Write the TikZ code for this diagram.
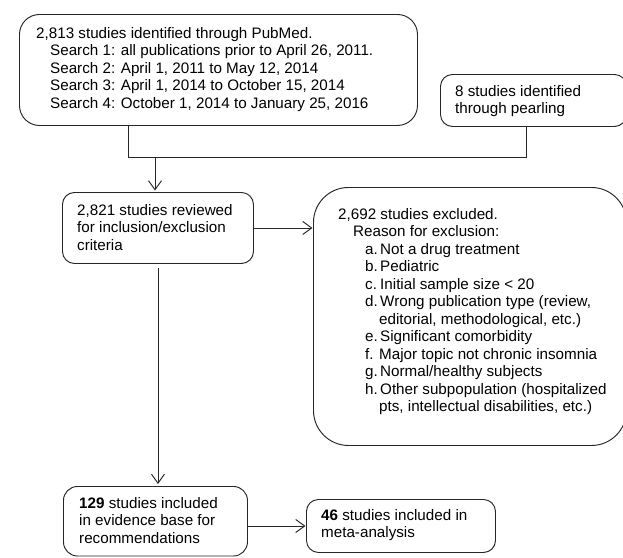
\documentclass[tikz,border=0pt]{standalone}
\usepackage{fontspec}
\setmainfont{Liberation Sans}
\usetikzlibrary{arrows.meta}
\begin{document}
\begin{tikzpicture}[x=1pt,y=-1pt,
  box/.style={draw=black!85, line width=0.95pt, anchor=north west, inner sep=0pt},
  txt/.style={anchor=north west, inner sep=0pt, align=left, font=\fontsize{15.2}{17.5}\selectfont},
  arr/.style={draw=black!85, -{Straight Barb[length=9pt,width=13pt]}, line width=0.95pt},
  ln/.style={draw=black!85, line width=0.95pt}]
\useasboundingbox (0,0) rectangle (623,557);
% boxes
\node[box, rounded corners=20pt, minimum width=398pt, minimum height=111pt] (b1) at (19,14) {};
\node[box, rounded corners=12pt, minimum width=186pt, minimum height=52pt] (b2) at (440,74) {};
\node[box, rounded corners=12pt, minimum width=191pt, minimum height=71pt] (b3) at (62,192) {};
\node[box, rounded corners=35pt, minimum width=313pt, minimum height=258pt] (b4) at (313,187) {};
\node[box, rounded corners=14pt, minimum width=184pt, minimum height=69.5pt] (b5) at (63,486) {};
\node[box, rounded corners=12pt, minimum width=189pt, minimum height=53pt] (b6) at (306,499) {};
% texts
\node[txt] (t1) at (36,38-12.25) {\strut 2,813 studies identified through PubMed.\\
\hspace*{14pt}Search 1: all publications prior to April 26, 2011.\\
\hspace*{14pt}Search 2: April 1, 2011 to May 12, 2014\\
\hspace*{14pt}Search 3: April 1, 2014 to October 15, 2014\\
\hspace*{14pt}Search 4: October 1, 2014 to January 25, 2016};
\node[txt] (t2) at (455,96-12.25) {\strut 8 studies identified\\through pearling};
\node[txt] (t3) at (77,215-12.25) {\strut 2,821 studies reviewed\\for inclusion/exclusion\\criteria};
\node[txt] (t4) at (338,219-12.25) {\strut 2,692 studies excluded.\\
\hspace*{15pt}Reason for exclusion:\\
\hspace*{27pt}\makebox[15pt][l]{a.}Not a drug treatment\\
\hspace*{27pt}\makebox[15pt][l]{b.}Pediatric\\
\hspace*{27pt}\makebox[15pt][l]{c.}Initial sample size < 20\\
\hspace*{27pt}\makebox[15pt][l]{d.}Wrong publication type (review,\\
\hspace*{41pt}editorial, methodological, etc.)\\
\hspace*{27pt}\makebox[15pt][l]{e.}Significant comorbidity\\
\hspace*{27pt}\makebox[14pt][l]{f.}Major topic not chronic insomnia\\
\hspace*{27pt}\makebox[15pt][l]{g.}Normal/healthy subjects\\
\hspace*{27pt}\makebox[15pt][l]{h.}Other subpopulation (hospitalized\\
\hspace*{41pt}pts, intellectual disabilities, etc.)};
\node[txt] (t5) at (79,508-12.25) {\strut\textbf{129} studies included\\in evidence base for\\recommendations};
\node[txt] (t6) at (321,520-12.25) {\strut\textbf{46} studies included in\\meta-analysis};
% connectors
\coordinate (m1) at (128,157);
\coordinate (m2) at (526,157);
\coordinate (a0) at (155,157);
\draw[ln] (m1 |- b1.south) -- (m1) -- (m2) -- (m2 |- b2.south);
\draw[arr, shorten >=1.5pt] (a0) -- (a0 |- b3.north);
\draw[arr, shorten >=0.5pt] (b3.east) -- (b4.west |- b3.east);
\draw[arr, shorten <=4pt, shorten >=2pt] (b3.south) -- (b3.south |- b5.north);
\draw[arr, shorten >=0.5pt] (b5.east |- b6.west) -- (b6.west);
\end{tikzpicture}
\end{document}
